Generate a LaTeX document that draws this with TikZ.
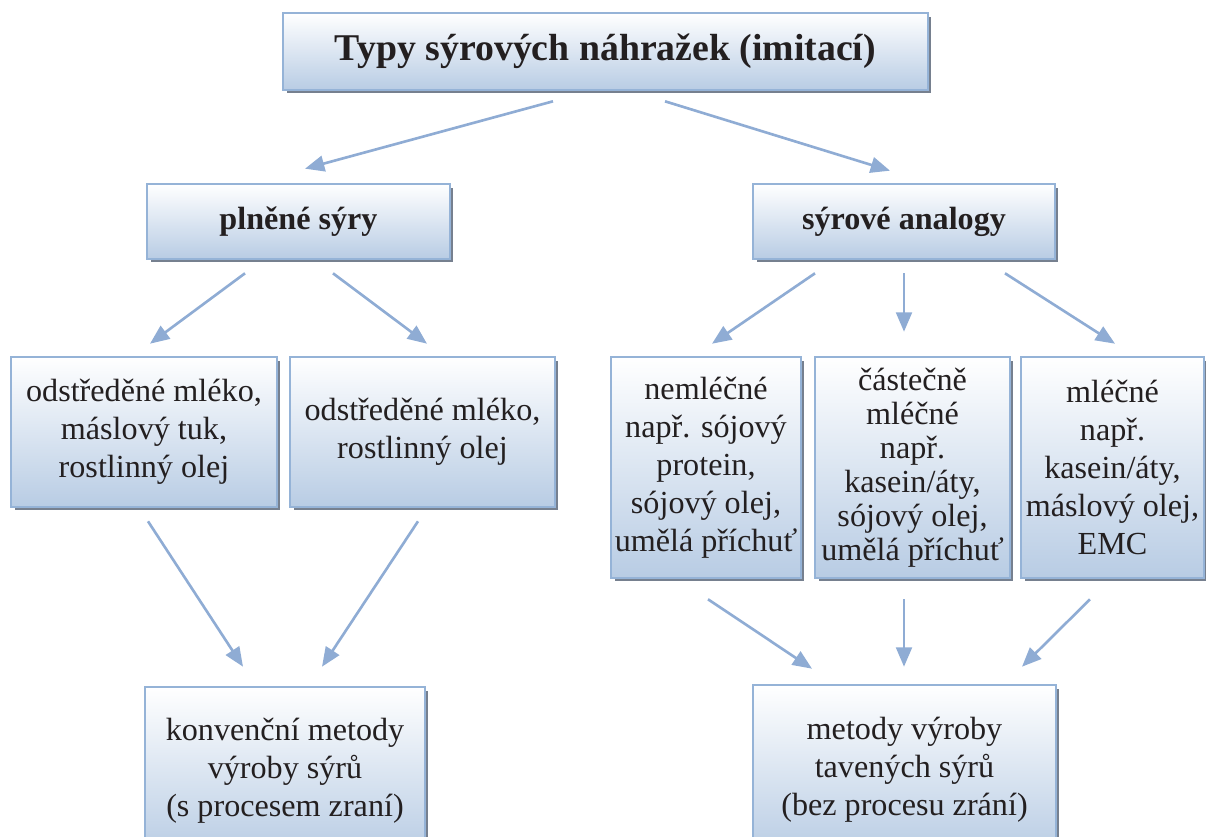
\documentclass[tikz,border=0pt]{standalone}
\usepackage{fontspec}
\setmainfont{Liberation Serif}
\usetikzlibrary{arrows.meta,shadows}
\definecolor{boxline}{RGB}{149,179,215}
\definecolor{boxbot}{RGB}{184,204,228}
\definecolor{arrowc}{RGB}{143,172,212}
\definecolor{shadowc}{RGB}{118,128,143}
\definecolor{textc}{RGB}{35,31,32}

\begin{document}
\begin{tikzpicture}[x=0.02cm, y=-0.02cm,
  box/.style={draw=boxline, line width=1.5pt, top color=white, bottom color=boxbot,
    text=textc, align=center, inner sep=0pt,
    drop shadow={shadow xshift=0.07cm, shadow yshift=-0.07cm, fill=shadowc, opacity=1},
    font=\fontsize{18.3}{21.6}\selectfont},
  head/.style={box, font=\fontsize{18.3}{21.6}\selectfont\bfseries},
  arr/.style={draw=arrowc, line width=1.5pt, -{Triangle[length=11pt,width=9pt]}}]
  \useasboundingbox (0,0) rectangle (1206,837);
  \clip (0,0) rectangle (1206,837);

  % Level 1
  \node[head, font=\fontsize{21.5}{25}\selectfont\bfseries, minimum width=12.9cm, minimum height=1.54cm]
    (title) at (605.5,51.5) {Typy sýrových náhražek (imitací)};

  % Level 2
  \node[head, minimum width=6.06cm, minimum height=1.5cm] (plnene) at (298.5,221.5) {plněné sýry};
  \node[head, minimum width=6.04cm, minimum height=1.5cm] (analog) at (904,221.5) {sýrové analogy};

  % Level 3 -- plněné sýry
  \node[box, minimum width=5.32cm, minimum height=3cm] (odA) at (144,432)
    {odstředěné mléko,\\máslový tuk,\\rostlinný olej};
  \node[box, minimum width=5.3cm, minimum height=3cm] (odB) at (422.5,432)
    {odstředěné mléko,\\rostlinný olej};

  % Level 3 -- sýrové analogy
  \node[box, minimum width=3.8cm, minimum height=4.42cm] (nemlec) at (706,467.5)
    {nemléčné\\např. sójový\\protein,\\sójový olej,\\umělá příchuť};
  \node[box, minimum width=3.9cm, minimum height=4.42cm, font=\fontsize{18.3}{19.3}\selectfont] (castec) at (912.5,467.5)
    {částečně\\mléčné\\např.\\kasein/áty,\\sójový olej,\\umělá příchuť};
  \node[box, minimum width=3.66cm, minimum height=4.42cm] (mlec) at (1112.5,467.5)
    {mléčné\\např.\\kasein/áty,\\máslový olej,\\EMC};

  % Level 4
  \node[box, minimum width=5.6cm, minimum height=3.36cm] (konv) at (285,771)
    {konvenční metody\\výroby sýrů\\(s procesem zraní)};
  \node[box, minimum width=6.06cm, minimum height=3.4cm] (tav) at (904.5,770)
    {metody výroby\\tavených sýrů\\(bez procesu zrání)};

  % Level 1 -> level 2
  \draw[arr] ([shift={(-52.5,10)}]title.south) -- ([shift={(6.5,-14)}]plnene.north);
  \draw[arr] ([shift={(59.5,10)}]title.south) -- ([shift={(-14,-12)}]analog.north);

  % Level 2 -> level 3
  \draw[arr] ([shift={(-53.5,13)}]plnene.south) -- ([shift={(6,-12)}]odA.north);
  \draw[arr] ([shift={(34.5,13)}]plnene.south) -- ([shift={(4.5,-12)}]odB.north);
  \draw[arr] ([shift={(-89,13)}]analog.south) -- ([shift={(6,-12)}]nemlec.north);
  \draw[arr] ([shift={(0,13)}]analog.south) -- ([shift={(-8.5,-24)}]castec.north);
  \draw[arr] ([shift={(101,13)}]analog.south) -- ([shift={(2.5,-12)}]mlec.north);

  % Level 3 -> level 4
  \draw[arr] ([shift={(4,13)}]odA.south) -- ([shift={(-42,-19)}]konv.north);
  \draw[arr] ([shift={(-4.5,13)}]odB.south) -- ([shift={(37,-19)}]konv.north);
  \draw[arr] ([shift={(2,20)}]nemlec.south) -- ([shift={(-92.5,-15)}]tav.north);
  \draw[arr] ([shift={(-8.5,20)}]castec.south) -- ([shift={(-0.5,-17)}]tav.north);
  \draw[arr] ([shift={(-22.5,20)}]mlec.south) -- ([shift={(117.5,-17)}]tav.north);
\end{tikzpicture}
\end{document}
